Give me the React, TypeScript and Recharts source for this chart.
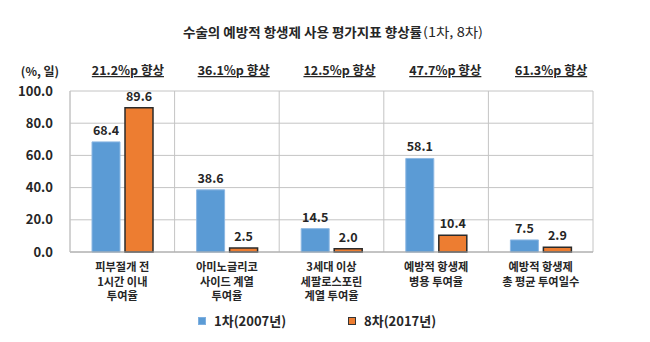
import { Bar, BarChart, CartesianGrid, LabelList, Legend, XAxis, YAxis } from 'recharts';

const categories = [
  '피부절개 전\n1시간 이내\n투여율',
  '아미노글리코\n사이드 계열\n투여율',
  '3세대 이상\n세팔로스포린\n계열 투여율',
  '예방적 항생제\n병용 투여율',
  '예방적 항생제\n총 평균 투여일수',
];
const round1 = [68.4, 38.6, 14.5, 58.1, 7.5];
const round8 = [89.6, 2.5, 2.0, 10.4, 2.9];
const improvements = ['21.2%p 향상', '36.1%p 향상', '12.5%p 향상', '47.7%p 향상', '61.3%p 향상'];
const yTicks = [0, 20, 40, 60, 80, 100];

const data = categories.map((name, i) => ({
  name,
  first: round1[i],
  eighth: round8[i],
  note: improvements[i],
}));

const FONT = "'Noto Sans CJK KR', 'Noto Sans', sans-serif";
const TEXT = '#262626';

function CategoryTick({ x, y, payload }: any) {
  const lines = String(payload.value).split('\n');
  return (
    <g>
      {lines.map((l, i) => (
        <text
          key={i}
          x={x}
          y={y + 11 + i * 14.5}
          textAnchor="middle"
          fontFamily={FONT}
          fontSize={11.2}
          fontWeight="bold"
          fill={TEXT}
        >
          {l}
        </text>
      ))}
    </g>
  );
}

function NoteTick({ x, y, payload }: any) {
  return (
    <text
      x={x}
      y={y}
      dy={-8}
      textAnchor="middle"
      fontFamily={FONT}
      fontSize={12.5}
      fontWeight="bold"
      fill={TEXT}
      style={{ textDecoration: 'underline' }}
    >
      {payload.value}
    </text>
  );
}

function LegendBox() {
  const item = (left: number, color: string, border: string, label: string) => (
    <div style={{ position: 'absolute', left, top: -1, display: 'flex', alignItems: 'center' }}>
      <span style={{ width: 6, height: 6, background: color, border: `1px solid ${border}`, marginRight: 8 }} />
      <span style={{ fontSize: 13, fontWeight: 'bold', color: TEXT }}>{label}</span>
    </div>
  );
  return (
    <div style={{ fontFamily: FONT, position: 'relative', height: 30 }}>
      {item(198, '#5b9bd5', '#7fb0e0', '1차(2007년)')}
      {item(348, '#ed7d31', '#333', '8차(2017년)')}
    </div>
  );
}

export default function App() {
  return (
    <div style={{ position: 'absolute', left: 0, top: 0, width: 650, height: 342, background: '#fff', fontFamily: FONT }}>
      <BarChart
        width={650}
        height={342}
        data={data}
        margin={{ top: 61, right: 57, left: 10, bottom: 0 }}
        barSize={28}
        barGap={5}
      >
        <text
          x={183}
          y={37}
          textLength={239}
          lengthAdjust="spacingAndGlyphs"
          fontFamily={FONT}
          fontSize={13}
          fontWeight="bold"
          fill={TEXT}
        >
          수술의 예방적 항생제 사용 평가지표 향상률
        </text>
        <text
          x={423}
          y={37}
          textLength={60}
          lengthAdjust="spacingAndGlyphs"
          fontFamily={FONT}
          fontSize={13}
          fill={TEXT}
        >
          (1차, 8차)
        </text>
        <CartesianGrid
          stroke="#c4c4c4"
          verticalCoordinatesGenerator={({ offset }: any) =>
            [0, 1, 2, 3, 4, 5].map((i) => offset.left + (i * offset.width) / 5)
          }
        />
        <XAxis
          dataKey="name"
          axisLine={{ stroke: '#a6a6a6' }}
          tickLine={false}
          height={60}
          interval={0}
          tick={<CategoryTick />}
        />
        <XAxis
          xAxisId="top"
          dataKey="note"
          orientation="top"
          axisLine={false}
          tickLine={false}
          height={30}
          interval={0}
          padding={{ left: 5, right: -11 }}
          tick={<NoteTick />}
        />
        <YAxis
          domain={[0, 100]}
          ticks={yTicks}
          width={60}
          axisLine={{ stroke: '#c4c4c4' }}
          tickLine={false}
          tickMargin={11}
          tickFormatter={(v: number) => v.toFixed(1)}
          tick={{ fontFamily: FONT, fontSize: 13, fontWeight: 'bold', fill: TEXT }}
          label={{
            value: '(%, 일)',
            position: 'top',
            offset: 15,
            style: { fontFamily: FONT, fontSize: 12, fontWeight: 'bold', fill: TEXT },
          }}
        />
        <Legend verticalAlign="bottom" height={30} wrapperStyle={{ left: 0, width: 650 }} content={<LegendBox />} />
        <Bar dataKey="first" name="1차(2007년)" fill="#5b9bd5" stroke="#8db8e3" strokeWidth={1} isAnimationActive={false}>
          <LabelList
            dataKey="first"
            position="top"
            offset={7}
            formatter={(v: any) => Number(v).toFixed(1)}
            style={{ fontFamily: FONT, fontSize: 12.5, fontWeight: 'bold', fill: TEXT }}
          />
        </Bar>
        <Bar dataKey="eighth" name="8차(2017년)" fill="#ed7d31" stroke="#2b2b2b" strokeWidth={1.5} isAnimationActive={false}>
          <LabelList
            dataKey="eighth"
            position="top"
            offset={7}
            formatter={(v: any) => Number(v).toFixed(1)}
            style={{ fontFamily: FONT, fontSize: 12.5, fontWeight: 'bold', fill: TEXT }}
          />
        </Bar>
      </BarChart>
    </div>
  );
}
